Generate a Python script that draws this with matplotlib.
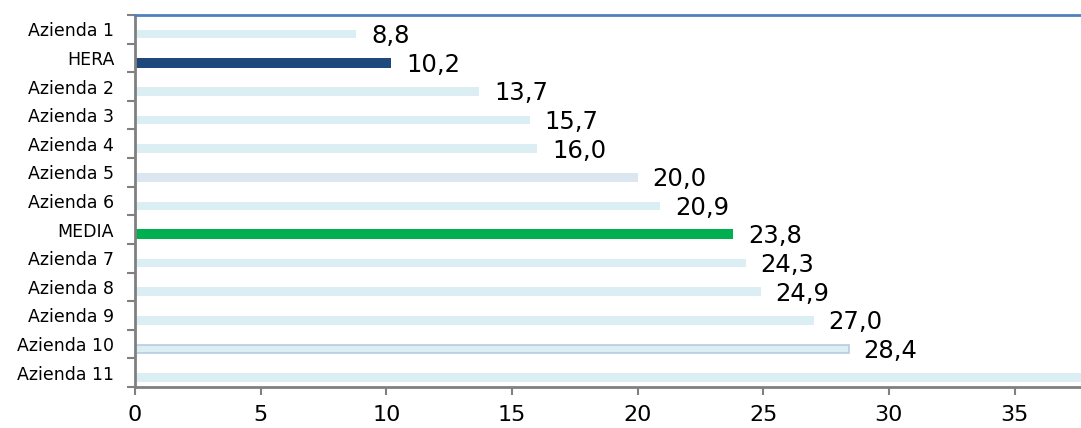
import matplotlib.pyplot as plt
from matplotlib.ticker import FixedLocator

categories = ["Azienda 1", "HERA", "Azienda 2", "Azienda 3", "Azienda 4",
              "Azienda 5", "Azienda 6", "MEDIA", "Azienda 7", "Azienda 8",
              "Azienda 9", "Azienda 10", "Azienda 11"]
values = [8.8, 10.2, 13.7, 15.7, 16.0, 20.0, 20.9, 23.8, 24.3, 24.9, 27.0, 28.4, 39.6]
labels = ["8,8", "10,2", "13,7", "15,7", "16,0", "20,0", "20,9", "23,8",
          "24,3", "24,9", "27,0", "28,4", "39,6"]

light = "#DAEEF3"
colors = [light, "#1F497D", light, light, light, "#DCE6F1", light, "#00B050",
          light, light, light, light, light]
heights = [0.30, 0.34, 0.30, 0.30, 0.30, 0.30, 0.30, 0.35,
           0.30, 0.30, 0.30, 0.30, 0.34]
edges = ["none"] * 13
edges[11] = "#B8CCE4"

fig = plt.figure(figsize=(10.81, 4.28), dpi=100)
ax = fig.add_axes([135 / 1081, 1 - 387 / 428, 1 - 135 / 1081, (387 - 15) / 428])

xmax = (1081 - 135) / 25.13
pos = [i + 0.17 for i in range(len(categories))]
ax.barh(pos, values, height=heights, color=colors, edgecolor=edges, linewidth=1.2)

# the last label sits beyond the visible area in the original, so skip it
for p, v, t in zip(pos, values, labels):
    if v > xmax:
        continue
    ax.annotate(t, (v, p), xytext=(15, -2), textcoords="offset pixels",
                va="center", ha="left", fontsize=17.5, color="black",
                annotation_clip=False)

ax.set_xlim(0, xmax)
ax.set_ylim(len(categories) - 0.5, -0.5)

ax.set_yticks(range(len(categories)))
ax.set_yticklabels(categories, fontsize=12.5)
ax.yaxis.set_minor_locator(FixedLocator([i - 0.5 for i in range(len(categories) + 1)]))
ax.tick_params(axis="y", which="major", length=0, pad=15)
ax.tick_params(axis="y", which="minor", length=6, width=1.5, color="#808080")

ax.set_xticks(range(0, 40, 5))
ax.tick_params(axis="x", length=6, width=1.5, color="#808080", labelsize=16, pad=7)

for s in ["left", "bottom"]:
    ax.spines[s].set_color("#808080")
    ax.spines[s].set_linewidth(2)
ax.spines["top"].set_color("#4F81BD")
ax.spines["top"].set_linewidth(2)
ax.spines["right"].set_visible(False)

fig.savefig("out.png", dpi=100)
